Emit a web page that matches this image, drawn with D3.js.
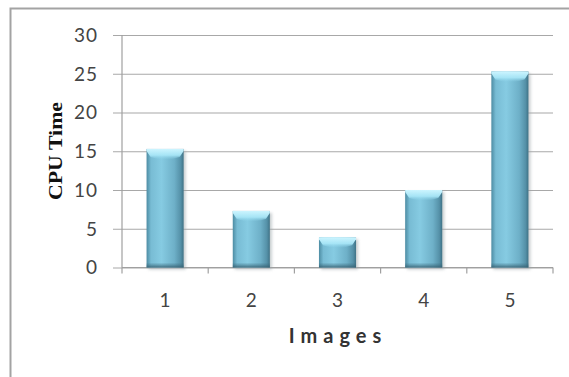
<!DOCTYPE html>
<html>
<head>
<meta charset="utf-8">
<script src="https://cdn.jsdelivr.net/npm/d3@7/dist/d3.min.js"></script>
<style>
  html, body { margin: 0; padding: 0; background: #fff; }
  svg { display: block; }
</style>
</head>
<body>
<script>
// Chart data
const categories = ["1", "2", "3", "4", "5"];
const cpuTime = [15.3, 7.3, 3.9, 10, 25.3];
const yTicks = [0, 5, 10, 15, 20, 25, 30];

const W = 569, H = 377;
const svg = d3.select("body").append("svg").attr("width", W).attr("height", H);

// Frame of the chart area (runs off the right and bottom edges)
svg.append("rect")
  .attr("x", 10.5).attr("y", 8.5)
  .attr("width", 600).attr("height", 400)
  .attr("fill", "#fff")
  .attr("stroke", "#a3a3a3").attr("stroke-width", 2);

const plot = { left: 122, right: 553, top: 35, bottom: 267.5 };

const x = d3.scaleBand()
  .domain(categories)
  .range([plot.left, plot.right])
  .paddingInner(0.57)
  .paddingOuter(0.285);

const y = d3.scaleLinear()
  .domain([0, 30])
  .range([plot.bottom, plot.top]);

// Gradients for the bevelled bars
const defs = svg.append("defs");
const body = defs.append("linearGradient").attr("id", "barBody")
  .attr("x1", "0").attr("x2", "1").attr("y1", "0").attr("y2", "0");
[["0%", "#4d8ca3"], ["12%", "#78bcd4"], ["40%", "#86cbe2"], ["75%", "#6eb0c8"], ["92%", "#5591a8"], ["100%", "#3f7286"]]
  .forEach(([o, c]) => body.append("stop").attr("offset", o).attr("stop-color", c));

const cap = defs.append("linearGradient").attr("id", "barCap")
  .attr("x1", "0").attr("x2", "0").attr("y1", "0").attr("y2", "1");
[["0%", "#cdf5ff", 1], ["60%", "#a8e6f7", 0.95], ["100%", "#8fd4ea", 0]]
  .forEach(([o, c, a]) => cap.append("stop").attr("offset", o).attr("stop-color", c).attr("stop-opacity", a));

const base = defs.append("linearGradient").attr("id", "barBase")
  .attr("x1", "0").attr("x2", "0").attr("y1", "0").attr("y2", "1");
[["0%", "#3d6f82", 0], ["100%", "#365f70", 0.85]]
  .forEach(([o, c, a]) => base.append("stop").attr("offset", o).attr("stop-color", c).attr("stop-opacity", a));

const shadow = defs.append("filter").attr("id", "soft").attr("x", "-30%").attr("y", "-10%").attr("width", "160%").attr("height", "130%");
shadow.append("feGaussianBlur").attr("stdDeviation", 1.5);

// Horizontal gridlines with tick stubs to the left of the axis
const yAxis = d3.axisLeft(y).tickValues(yTicks).tickSize(plot.right - plot.left + 9).tickPadding(15).tickFormat(d3.format("d"));
const gy = svg.append("g")
  .attr("transform", `translate(${plot.right},0)`)
  .call(yAxis);
gy.select(".domain").remove();
gy.selectAll(".tick line").attr("stroke", "#a8a8a8").attr("stroke-width", 1.2);
gy.selectAll(".tick text")
  .attr("fill", "#444")
  .attr("font-family", "Lato, 'Open Sans', sans-serif")
  .attr("font-size", 19)
  .attr("letter-spacing", 1)
  .attr("dy", "0.34em");

// Vertical axis line
svg.append("line")
  .attr("x1", plot.left).attr("x2", plot.left)
  .attr("y1", y(30)).attr("y2", plot.bottom)
  .attr("stroke", "#a0a0a0").attr("stroke-width", 1.2);

// Category axis line and boundary ticks
svg.append("line")
  .attr("x1", plot.left).attr("x2", plot.right)
  .attr("y1", plot.bottom).attr("y2", plot.bottom)
  .attr("stroke", "#a0a0a0").attr("stroke-width", 1.2);

const step = x.step();
const bounds = categories.map(c => x(c) + x.bandwidth() / 2 - step / 2).concat([plot.right]);
svg.append("g").selectAll("line").data(bounds).join("line")
  .attr("x1", d => d).attr("x2", d => d)
  .attr("y1", plot.bottom).attr("y2", plot.bottom + 6)
  .attr("stroke", "#a0a0a0").attr("stroke-width", 1.2);

svg.append("g").selectAll("text").data(categories).join("text")
  .attr("x", d => x(d) + x.bandwidth() / 2)
  .attr("y", 307)
  .attr("text-anchor", "middle")
  .attr("fill", "#444")
  .attr("font-family", "Lato, 'Open Sans', sans-serif")
  .attr("font-size", 19)
  .text(d => d);

// Bars
const bw = x.bandwidth();
const bars = svg.append("g").selectAll("g").data(categories).join("g");

bars.append("rect")
  .attr("x", d => x(d) + 2)
  .attr("y", (d, i) => y(cpuTime[i]) + 2)
  .attr("width", bw)
  .attr("height", (d, i) => plot.bottom - y(cpuTime[i]))
  .attr("fill", "#9aa4a8").attr("opacity", 0.55)
  .attr("filter", "url(#soft)");

bars.append("rect")
  .attr("x", d => x(d))
  .attr("y", (d, i) => y(cpuTime[i]))
  .attr("width", bw)
  .attr("height", (d, i) => plot.bottom - y(cpuTime[i]))
  .attr("fill", "url(#barBody)");

bars.append("path")
  .attr("d", (d, i) => {
    const x0 = x(d), y0 = y(cpuTime[i]), h = 11;
    return `M${x0},${y0} H${x0 + bw} V${y0 + 2} L${x0 + bw - 4},${y0 + h - 3} Q${x0 + bw / 2},${y0 + h + 2} ${x0 + 4},${y0 + h - 3} L${x0},${y0 + 2} Z`;
  })
  .attr("fill", "url(#barCap)");

bars.append("rect")
  .attr("x", d => x(d))
  .attr("y", plot.bottom - 5)
  .attr("width", bw)
  .attr("height", 5)
  .attr("fill", "url(#barBase)");

// Axis titles
svg.append("text")
  .attr("transform", "translate(62,151) rotate(-90)")
  .attr("text-anchor", "middle")
  .attr("font-family", "'Liberation Serif', 'Times New Roman', serif")
  .attr("font-weight", "bold")
  .attr("font-size", 19)
  .attr("textLength", 98)
  .attr("lengthAdjust", "spacingAndGlyphs")
  .attr("fill", "#111")
  .text("CPU Time");

svg.append("text")
  .attr("x", 338)
  .attr("y", 343)
  .attr("text-anchor", "middle")
  .attr("font-family", "Lato, 'Open Sans', sans-serif")
  .attr("font-weight", "bold")
  .attr("font-size", 20)
  .attr("letter-spacing", 6)
  .attr("fill", "#333")
  .text("Images");
</script>
</body>
</html>
